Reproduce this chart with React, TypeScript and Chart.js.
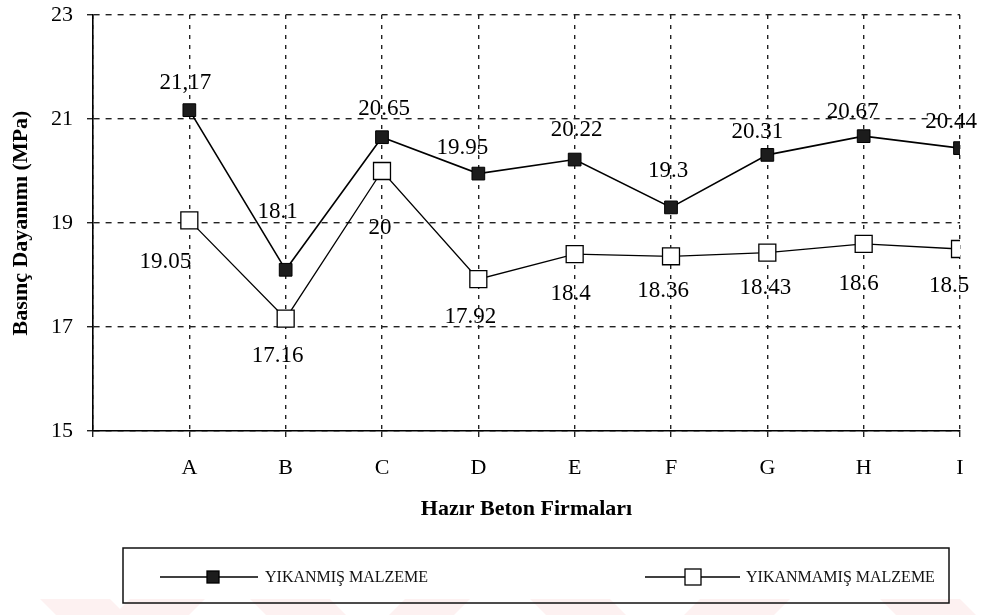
import React, { useEffect, useRef } from 'react';
import { Chart, registerables } from 'chart.js';

Chart.register(...registerables);

// ---- data ----
const categories = ['A', 'B', 'C', 'D', 'E', 'F', 'G', 'H', 'I'];
const yikanmis = [21.17, 18.1, 20.65, 19.95, 20.22, 19.3, 20.31, 20.67, 20.44];
const yikanmamis = [19.05, 17.16, 20, 17.92, 18.4, 18.36, 18.43, 18.6, 18.5];
const yikanmisLabels = ['21,17', '18.1', '20.65', '19.95', '20.22', '19.3', '20.31', '20.67', '20.44'];
const yikanmamisLabels = ['19.05', '17.16', '20', '17.92', '18.4', '18.36', '18.43', '18.6', '18.5'];
const yTicks = [15, 17, 19, 21, 23];
const seriesNames = ['YIKANMIŞ MALZEME', 'YIKANMAMIŞ MALZEME'];
const xTitle = 'Hazır Beton Firmaları';
const yTitle = 'Basınç Dayanımı (MPa)';

const SERIF = "'Liberation Serif', 'Times New Roman', serif";

// label placement (styling only): pixel offsets from each point
const labelOffsets = [
  [[-4, -27], [-8, -58], [2, -28], [-16, -26], [2, -30], [-3, -36], [-10, -23], [-11, -24], [-9, -26]],
  [[-24, 42], [-8, 37], [-2, 57], [-8, 38], [-4, 40], [-8, 35], [-2, 35], [-5, 40], [-11, 37]],
];

const pointLabelPlugin = {
  id: 'pointLabelPlugin',
  afterDatasetsDraw(chart: any, _args: any, opts: any) {
    const ctx = chart.ctx;
    ctx.save();
    ctx.font = `23px ${SERIF}`;
    ctx.fillStyle = '#000';
    ctx.textAlign = 'center';
    ctx.textBaseline = 'middle';
    const texts = [yikanmisLabels, yikanmamisLabels];
    chart.data.datasets.forEach((_ds: any, di: number) => {
      const meta = chart.getDatasetMeta(di);
      meta.data.forEach((pt: any, i: number) => {
        const off = opts.offsets[di][i];
        ctx.fillText(texts[di][i], pt.x + off[0], pt.y + off[1]);
      });
    });
    ctx.restore();
  },
};

const legendBoxPlugin = {
  id: 'legendBoxPlugin',
  afterDraw(chart: any) {
    const ctx = chart.ctx;
    ctx.save();
    ctx.strokeStyle = '#111';
    ctx.lineWidth = 1.5;
    ctx.strokeRect(123, 548, 826, 55);
    const cy = 577;
    const items = [
      { x0: 160, mx: 213, x1: 258, tx: 265, fill: '#1c1c1c', size: 12 },
      { x0: 645, mx: 693, x1: 740, tx: 746, fill: '#ffffff', size: 16 },
    ];
    items.forEach((it, i) => {
      ctx.strokeStyle = '#000';
      ctx.lineWidth = 1.3;
      ctx.beginPath();
      ctx.moveTo(it.x0, cy);
      ctx.lineTo(it.x1, cy);
      ctx.stroke();
      ctx.fillStyle = it.fill;
      ctx.fillRect(it.mx - it.size / 2, cy - it.size / 2, it.size, it.size);
      ctx.strokeRect(it.mx - it.size / 2, cy - it.size / 2, it.size, it.size);
      ctx.fillStyle = '#111';
      ctx.font = `16px ${SERIF}`;
      ctx.textAlign = 'left';
      ctx.textBaseline = 'middle';
      ctx.fillText(seriesNames[i], it.tx, cy + 1);
    });
    ctx.restore();
  },
};

const watermarkPlugin = {
  id: 'watermarkPlugin',
  beforeDraw(chart: any) {
    const ctx = chart.ctx;
    ctx.save();
    ctx.fillStyle = '#fdf1f1';
    const y0 = 599;
    const y1 = 615;
    const shapes: [number, number, number][] = [
      [40, 110, 1], [130, 205, -1], [250, 330, 1], [405, 470, -1],
      [530, 610, 1], [700, 790, -1], [880, 960, 1],
    ];
    shapes.forEach(([a, b, dir]) => {
      const s = 16 * dir;
      ctx.beginPath();
      ctx.moveTo(a, y0);
      ctx.lineTo(b, y0);
      ctx.lineTo(b + s, y1);
      ctx.lineTo(a + s, y1);
      ctx.closePath();
      ctx.fill();
    });
    ctx.restore();
  },
};

export default function App() {
  const canvasRef = useRef<HTMLCanvasElement | null>(null);

  useEffect(() => {
    if (!canvasRef.current) return;
    const chart = new Chart(canvasRef.current, {
      type: 'line',
      data: {
        datasets: [
          {
            label: seriesNames[0],
            data: yikanmis.map((v, i) => ({ x: i + 1, y: v })),
            borderColor: '#000',
            borderWidth: 1.6,
            backgroundColor: '#1c1c1c',
            pointStyle: 'rect',
            pointRadius: 9,
            pointBorderColor: '#000',
            pointBorderWidth: 1,
            pointBackgroundColor: '#1c1c1c',
            tension: 0,
          },
          {
            label: seriesNames[1],
            data: yikanmamis.map((v, i) => ({ x: i + 1, y: v })),
            borderColor: '#000',
            borderWidth: 1.3,
            backgroundColor: '#fff',
            pointStyle: 'rect',
            pointRadius: 12,
            pointBorderColor: '#000',
            pointBorderWidth: 1.3,
            pointBackgroundColor: '#fff',
            tension: 0,
          },
        ],
      },
      options: {
        animation: false,
        responsive: false,
        devicePixelRatio: 1,
        layout: { autoPadding: false, padding: { left: 0, right: 22, top: 15, bottom: 80 } },
        plugins: {
          legend: { display: false },
          tooltip: { enabled: false },
          pointLabelPlugin: { offsets: labelOffsets },
        } as any,
        scales: {
          x: {
            type: 'linear',
            min: 0,
            max: categories.length,
            afterBuildTicks: (s: any) => {
              s.ticks = [0, ...categories.map((_c, i) => i + 1)].map((v) => ({ value: v }));
            },
            afterFit: (s: any) => {
              s.height = 104;
            },
            ticks: {
              autoSkip: false,
              maxRotation: 0,
              padding: 18,
              color: '#000',
              font: { family: SERIF, size: 22 },
              callback: (v: any) => (v >= 1 ? categories[v - 1] : ''),
            },
            grid: {
              color: '#222',
              lineWidth: 1.4,
              drawTicks: true,
              tickLength: 6,
              tickColor: '#222',
            },
            border: { display: true, color: '#000', width: 1.6, dash: [4, 6] },
            title: {
              display: true,
              text: xTitle,
              color: '#000',
              font: { family: SERIF, size: 22, weight: 'bold' },
              padding: { top: 0, bottom: 12 },
            },
          },
          y: {
            type: 'linear',
            min: 15,
            max: 23,
            afterBuildTicks: (s: any) => {
              s.ticks = yTicks.map((v) => ({ value: v }));
            },
            afterFit: (s: any) => {
              s.width = 93;
              s.paddingTop = 12;
              s.paddingBottom = 12;
            },
            ticks: {
              padding: 14,
              color: '#000',
              font: { family: SERIF, size: 22 },
            },
            grid: {
              color: '#222',
              lineWidth: 1.4,
              drawTicks: true,
              tickLength: 6,
              tickColor: '#222',
            },
            border: { display: true, color: '#000', width: 1.6, dash: [6, 6] },
            title: {
              display: true,
              text: yTitle,
              color: '#000',
              font: { family: SERIF, size: 22, weight: 'bold' },
              padding: { top: 8, bottom: 0 },
            },
          },
        },
      },
      plugins: [watermarkPlugin, pointLabelPlugin, legendBoxPlugin],
    });
    return () => chart.destroy();
  }, []);

  return (
    <div style={{ position: 'fixed', left: 0, top: 0, width: 982, height: 615, background: '#fff' }}>
      <canvas ref={canvasRef} width={982} height={615} style={{ width: 982, height: 615, display: 'block' }} />
    </div>
  );
}
